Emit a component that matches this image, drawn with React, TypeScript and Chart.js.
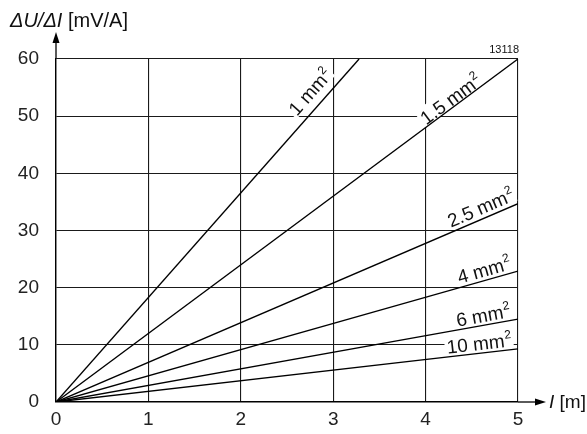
import React, { useEffect, useRef } from 'react';
import { Chart, registerables } from 'chart.js';

Chart.register(...registerables);

// ---- data ----
const crossSections = ['1 mm', '1.5 mm', '2.5 mm', '4 mm', '6 mm', '10 mm'];
const lengthEnd = [3.28, 5, 5, 5, 5, 5]; // I [m] at end of each line
const dropEnd = [60, 60, 34.7, 22.9, 14.5, 9.3]; // ΔU/ΔI [mV/A] at end of each line
const xTicks = [0, 1, 2, 3, 4, 5];
const yTicks = [0, 10, 20, 30, 40, 50, 60];

// label placement (along-line x in data units, perpendicular offset in px)
const labelAt = [2.87, 4.32, 4.64, 4.66, 4.64, 4.59];
const labelOffset = [15, 8, 11, 10.5, 10, 10];

const FONT = "'Liberation Sans', Arial, sans-serif";

const decorPlugin = {
  id: 'decor',
  beforeDatasetsDraw(chart: any) {
    drawLabels(chart, true);
  },
  afterDatasetsDraw(chart: any) {
    drawLabels(chart, false);
  },
  afterDraw(chart: any) {
    const ctx = chart.ctx as CanvasRenderingContext2D;
    const { left, right, top, bottom } = chart.chartArea;
    ctx.save();
    ctx.strokeStyle = '#000';
    ctx.fillStyle = '#000';
    ctx.lineWidth = 1.3;
    // y arrow
    ctx.beginPath();
    ctx.moveTo(left, top);
    ctx.lineTo(left, 40);
    ctx.stroke();
    ctx.beginPath();
    ctx.moveTo(left, 32);
    ctx.lineTo(left - 3.5, 43);
    ctx.lineTo(left + 3.5, 43);
    ctx.closePath();
    ctx.fill();
    // x arrow
    ctx.beginPath();
    ctx.moveTo(right, bottom);
    ctx.lineTo(540, bottom);
    ctx.stroke();
    ctx.beginPath();
    ctx.moveTo(546, bottom);
    ctx.lineTo(535, bottom - 3.5);
    ctx.lineTo(535, bottom + 3.5);
    ctx.closePath();
    ctx.fill();

    // axis titles
    ctx.textBaseline = 'alphabetic';
    ctx.textAlign = 'left';
    ctx.fillStyle = '#111';
    ctx.font = `italic 20px ${FONT}`;
    const t1 = 'ΔU/ΔI';
    ctx.fillText(t1, 10, 27);
    const w1 = ctx.measureText(t1).width;
    ctx.font = `20px ${FONT}`;
    ctx.fillText(' [mV/A]', 10 + w1, 27);

    ctx.font = `italic 19px ${FONT}`;
    ctx.fillText('I', 549, 408);
    const w2 = ctx.measureText('I').width;
    ctx.font = `19px ${FONT}`;
    ctx.fillText(' [m]', 549 + w2, 408);

    ctx.font = `11px ${FONT}`;
    ctx.textAlign = 'right';
    ctx.fillText('13118', right + 1, 53);
    ctx.restore();
  },
};

function drawLabels(chart: any, mask: boolean) {
  const ctx = chart.ctx as CanvasRenderingContext2D;
  const xs = chart.scales.x;
  const ys = chart.scales.y;
  ctx.save();
  for (let i = 0; i < crossSections.length; i++) {
    const x0 = xs.getPixelForValue(0);
    const y0 = ys.getPixelForValue(0);
    const x1 = xs.getPixelForValue(lengthEnd[i]);
    const y1 = ys.getPixelForValue(dropEnd[i]);
    const ang = Math.atan2(y1 - y0, x1 - x0);
    const ax = labelAt[i];
    const av = (dropEnd[i] * ax) / lengthEnd[i];
    const px = xs.getPixelForValue(ax);
    const py = ys.getPixelForValue(av);
    const nx = Math.sin(ang);
    const ny = -Math.cos(ang);
    const cx = px + labelOffset[i] * nx;
    const cy = py + labelOffset[i] * ny;
    ctx.save();
    ctx.translate(cx, cy);
    ctx.rotate(ang);
    ctx.font = `19px ${FONT}`;
    const wMain = ctx.measureText(crossSections[i]).width;
    ctx.font = `12px ${FONT}`;
    const wSup = ctx.measureText('2').width;
    const w = wMain + wSup;
    if (mask) {
      ctx.fillStyle = '#fff';
      ctx.fillRect(-w / 2 - 2, -11, w + 4, 19);
    } else {
      ctx.fillStyle = '#111';
      ctx.textAlign = 'left';
      ctx.textBaseline = 'alphabetic';
      ctx.font = `19px ${FONT}`;
      ctx.fillText(crossSections[i], -w / 2, 6.8);
      ctx.font = `12px ${FONT}`;
      ctx.fillText('2', -w / 2 + wMain + 0.5, -1.5);
    }
    ctx.restore();
  }
  ctx.restore();
}

export default function App() {
  const ref = useRef<HTMLCanvasElement | null>(null);
  useEffect(() => {
    document.body.style.margin = '0';
    const canvas = ref.current;
    if (!canvas) return;
    const chart = new Chart(canvas, {
      type: 'line',
      data: {
        datasets: crossSections.map((name, i) => ({
          label: name + '²',
          data: [
            { x: 0, y: 0 },
            { x: lengthEnd[i], y: dropEnd[i] },
          ],
          borderColor: '#000',
          borderWidth: 1.4,
          pointRadius: 0,
          fill: false,
          tension: 0,
        })),
      },
      options: {
        animation: false,
        responsive: false,
        devicePixelRatio: 1,
        layout: { padding: { left: 0, right: 69, top: 59, bottom: 0 } },
        plugins: {
          legend: { display: false },
          tooltip: { enabled: false },
          title: { display: false },
        },
        scales: {
          x: {
            type: 'linear',
            min: 0,
            max: 5,
            afterBuildTicks: (scale: any) => {
              scale.ticks = xTicks.map((v) => ({ value: v }));
            },
            afterFit: (scale: any) => {
              scale.height = 32;
            },
            ticks: {
              color: '#222',
              font: { family: FONT, size: 19 },
              padding: 6,
              maxRotation: 0,
              callback: (v: any) => String(v),
            },
            grid: { color: '#1a1a1a', lineWidth: 1.1, drawTicks: false },
            border: { display: true, color: '#000', width: 1.4 },
          },
          y: {
            type: 'linear',
            min: 0,
            max: 60,
            afterBuildTicks: (scale: any) => {
              scale.ticks = yTicks.map((v) => ({ value: v }));
            },
            afterFit: (scale: any) => {
              scale.width = 56;
            },
            ticks: {
              color: '#222',
              font: { family: FONT, size: 19 },
              padding: 17,
              callback: (v: any) => String(v),
            },
            grid: { color: '#1a1a1a', lineWidth: 1.1, drawTicks: false },
            border: { display: true, color: '#000', width: 1.4 },
          },
        },
      },
      plugins: [decorPlugin],
    } as any);
    return () => chart.destroy();
  }, []);
  return (
    <div style={{ width: 587, height: 434, background: '#fff' }}>
      <canvas ref={ref} width={587} height={434} style={{ display: 'block' }} />
    </div>
  );
}
